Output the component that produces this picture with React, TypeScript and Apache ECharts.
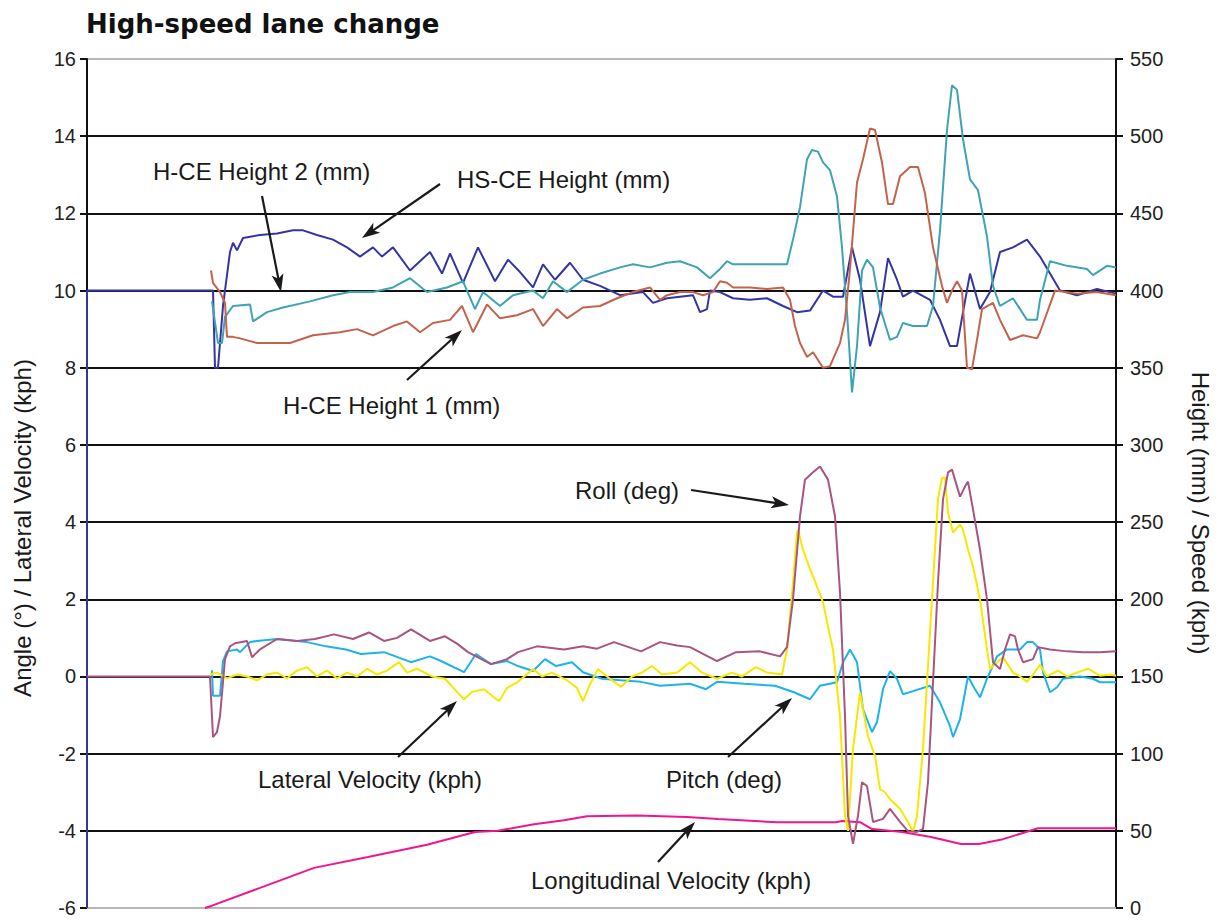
import React, { useEffect, useRef } from "react";
import * as echarts from "echarts";

// time in seconds (x axis)
const timeMax = 10.29;

// left axis: Angle (deg) / Lateral Velocity (kph)
const leftMin = -6;
const leftMax = 16;
const leftStep = 2;
// right axis: Height (mm) / Speed (kph)
const rightMin = 0;
const rightMax = 550;
const rightStep = 50;

const hsceHeight = [
  [0, 0], [0, 400], [1.26, 400], [1.28, 350], [1.31, 350], [1.36, 390], [1.43, 425], [1.46, 431], [1.5, 426],
  [1.56, 434], [1.73, 436], [1.9, 437], [2.06, 439], [2.16, 439], [2.3, 436], [2.46, 433], [2.6, 428],
  [2.73, 422], [2.86, 428], [2.95, 422], [3.06, 428], [3.23, 413], [3.43, 425], [3.55, 411], [3.63, 424],
  [3.76, 405], [3.91, 428], [4.08, 406], [4.21, 420], [4.33, 412], [4.46, 402], [4.56, 417], [4.68, 407],
  [4.83, 418], [4.96, 407], [5.13, 403], [5.33, 397], [5.56, 399], [5.66, 392], [5.8, 395], [6.06, 397],
  [6.13, 386], [6.2, 388], [6.23, 400], [6.33, 399], [6.46, 395], [6.63, 394], [6.8, 395], [6.96, 390],
  [7.1, 386], [7.23, 387], [7.36, 400], [7.46, 396], [7.56, 396], [7.65, 428], [7.73, 407], [7.83, 364],
  [7.93, 386], [8.01, 421], [8.1, 407], [8.16, 396], [8.26, 400], [8.43, 394], [8.53, 381], [8.63, 364],
  [8.7, 364], [8.76, 386], [8.83, 411], [8.93, 388], [9.03, 399], [9.13, 425], [9.26, 428], [9.4, 433],
  [9.53, 422], [9.73, 400], [9.9, 397], [10.1, 401], [10.29, 398],
];

const hceHeight2 = [
  [1.25, 393], [1.31, 366], [1.35, 366], [1.38, 383], [1.46, 390], [1.63, 391], [1.66, 380], [1.8, 386],
  [1.96, 389], [2.23, 393], [2.46, 397], [2.63, 399], [2.86, 399], [3.06, 402], [3.23, 408], [3.4, 399],
  [3.6, 402], [3.76, 406], [3.88, 388], [3.96, 399], [4.13, 390], [4.26, 397], [4.46, 400], [4.56, 395],
  [4.66, 406], [4.8, 399], [4.96, 407], [5.13, 411], [5.33, 415], [5.46, 417], [5.63, 415], [5.8, 418],
  [5.93, 419], [6.1, 415], [6.23, 408], [6.33, 414], [6.4, 419], [6.46, 417], [6.73, 417], [7.0, 417],
  [7.06, 433], [7.13, 454], [7.2, 485], [7.25, 491], [7.31, 490], [7.36, 483], [7.43, 478], [7.5, 461],
  [7.55, 428], [7.6, 386], [7.65, 334], [7.7, 364], [7.75, 413], [7.8, 420], [7.86, 415], [7.93, 389],
  [8.03, 368], [8.1, 370], [8.16, 379], [8.26, 377], [8.4, 377], [8.46, 390], [8.53, 439], [8.6, 504],
  [8.65, 533], [8.7, 530], [8.76, 498], [8.83, 472], [8.91, 465], [9.0, 435], [9.06, 403], [9.13, 390],
  [9.26, 395], [9.4, 381], [9.5, 381], [9.53, 394], [9.63, 419], [9.8, 416], [10.0, 414], [10.06, 410],
  [10.2, 416], [10.29, 415],
];

const hceHeight1 = [
  [1.24, 413], [1.26, 405], [1.33, 399], [1.38, 392], [1.4, 370], [1.46, 370], [1.53, 369], [1.7, 366],
  [2.03, 366], [2.26, 371], [2.53, 373], [2.7, 375], [2.86, 371], [3.06, 377], [3.2, 380], [3.33, 373],
  [3.46, 379], [3.63, 381], [3.75, 390], [3.86, 373], [4.0, 391], [4.13, 382], [4.3, 384], [4.46, 388],
  [4.56, 377], [4.7, 388], [4.8, 382], [4.96, 389], [5.13, 390], [5.3, 395], [5.46, 399], [5.63, 402],
  [5.73, 394], [5.8, 397], [5.93, 399], [6.06, 399], [6.16, 397], [6.26, 399], [6.33, 406], [6.4, 405],
  [6.46, 402], [6.63, 402], [6.8, 401], [6.96, 402], [7.03, 394], [7.08, 377], [7.13, 366], [7.2, 357],
  [7.26, 360], [7.36, 350], [7.43, 351], [7.53, 366], [7.58, 381], [7.63, 414], [7.7, 470], [7.76, 485],
  [7.83, 505], [7.88, 504], [7.95, 483], [8.01, 456], [8.06, 456], [8.13, 474], [8.23, 480], [8.31, 480],
  [8.38, 463], [8.46, 428], [8.55, 403], [8.6, 392], [8.65, 400], [8.7, 406], [8.75, 400], [8.8, 350],
  [8.85, 349], [8.9, 368], [8.95, 388], [9.06, 392], [9.13, 381], [9.23, 368], [9.36, 371], [9.5, 369],
  [9.53, 373], [9.68, 400], [9.9, 398], [10.1, 399], [10.29, 397],
];

const rollDeg = [
  [0, 0], [1.23, 0], [1.26, -1.57], [1.3, -1.44], [1.33, -1.03], [1.38, 0.45], [1.43, 0.78], [1.48, 0.86],
  [1.6, 0.92], [1.65, 0.5], [1.73, 0.7], [1.9, 0.97], [2.1, 0.92], [2.28, 0.97], [2.47, 1.09], [2.66, 0.97],
  [2.82, 1.14], [2.97, 0.92], [3.1, 1.0], [3.24, 1.22], [3.43, 0.92], [3.58, 1.04], [3.7, 0.85], [3.81, 0.63],
  [4.04, 0.32], [4.2, 0.45], [4.31, 0.63], [4.5, 0.78], [4.77, 0.7], [4.96, 0.78], [5.1, 0.72], [5.27, 0.89],
  [5.54, 0.65], [5.73, 0.89], [5.9, 0.8], [6.03, 0.76], [6.3, 0.4], [6.49, 0.63], [6.73, 0.65], [6.93, 0.52],
  [7.0, 0.76], [7.06, 2.0], [7.13, 4.15], [7.18, 5.1], [7.26, 5.29], [7.33, 5.44], [7.41, 5.1], [7.48, 4.15],
  [7.53, 2.18], [7.58, -1.03], [7.61, -3.61], [7.66, -4.34], [7.71, -3.61], [7.75, -2.74], [7.8, -2.84],
  [7.86, -3.77], [7.96, -3.69], [8.03, -3.43], [8.13, -3.77], [8.21, -4.01], [8.3, -4.03], [8.36, -3.95],
  [8.41, -2.74], [8.46, -0.15], [8.51, 2.44], [8.56, 4.59], [8.61, 5.29], [8.65, 5.36], [8.68, 5.1],
  [8.73, 4.66], [8.78, 4.92], [8.81, 5.05], [8.86, 4.33], [8.93, 3.29], [9.0, 2.0], [9.06, 0.37],
  [9.13, 0.19], [9.18, 0.7], [9.23, 1.09], [9.28, 1.04], [9.31, 0.7], [9.36, 0.37], [9.46, 0.45],
  [9.51, 0.76], [9.63, 0.7], [9.8, 0.65], [9.96, 0.63], [10.13, 0.63], [10.29, 0.65],
];

const pitchDeg = [
  [1.23, 0.05], [1.3, 0.1], [1.4, -0.05], [1.5, 0.05], [1.6, 0.0], [1.7, -0.1], [1.8, 0.05], [1.9, 0.1],
  [2.0, -0.05], [2.1, 0.15], [2.2, 0.24], [2.3, 0.0], [2.4, 0.15], [2.5, -0.05], [2.6, 0.1], [2.7, 0.0],
  [2.8, 0.2], [2.9, 0.05], [3.0, 0.15], [3.12, 0.37], [3.2, 0.1], [3.3, 0.2], [3.45, 0.0], [3.58, -0.06],
  [3.7, -0.4], [3.77, -0.59], [3.85, -0.4], [3.97, -0.33], [4.05, -0.5], [4.12, -0.64], [4.2, -0.3],
  [4.31, -0.14], [4.46, 0.19], [4.55, 0.0], [4.65, 0.1], [4.8, -0.1], [4.9, -0.3], [4.96, -0.64],
  [5.03, -0.2], [5.11, 0.19], [5.2, 0.0], [5.34, -0.27], [5.45, 0.0], [5.55, 0.1], [5.65, 0.27],
  [5.75, 0.05], [5.9, 0.1], [6.03, 0.37], [6.15, 0.1], [6.3, -0.06], [6.45, 0.1], [6.55, 0.0], [6.69, 0.24],
  [6.8, 0.1], [6.95, 0.05], [7.0, 0.7], [7.06, 2.44], [7.1, 3.73], [7.11, 3.8], [7.16, 3.29], [7.23, 2.78],
  [7.26, 2.6], [7.31, 2.26], [7.36, 1.92], [7.43, 1.04], [7.46, 0.7], [7.53, -1.03], [7.58, -3.61],
  [7.61, -4.0], [7.66, -1.88], [7.73, -0.41], [7.76, -0.85], [7.81, -1.55], [7.88, -2.06], [7.93, -2.92],
  [7.98, -3.0], [8.03, -3.18], [8.13, -3.43], [8.21, -3.77], [8.26, -4.03], [8.3, -3.61], [8.36, -1.88],
  [8.41, 0.27], [8.46, 2.44], [8.51, 4.59], [8.55, 5.15], [8.58, 5.15], [8.61, 4.25], [8.66, 3.73],
  [8.73, 3.94], [8.76, 3.8], [8.81, 3.29], [8.86, 2.85], [8.93, 2.0], [9.0, 0.7], [9.03, 0.19], [9.1, 0.37],
  [9.16, 0.5], [9.26, 0.1], [9.33, 0.0], [9.4, -0.14], [9.46, 0.05], [9.53, 0.3], [9.6, 0.0], [9.71, 0.15],
  [9.8, 0.0], [9.9, 0.1], [10.01, 0.2], [10.13, 0.02], [10.23, 0.05], [10.29, 0.02],
];

const lateralVel = [
  [1.25, 0.16], [1.26, -0.5], [1.33, -0.5], [1.36, 0.4], [1.4, 0.65], [1.5, 0.7], [1.53, 0.63], [1.63, 0.89],
  [1.7, 0.92], [1.9, 0.97], [2.2, 0.89], [2.39, 0.78], [2.59, 0.7], [2.74, 0.58], [2.97, 0.63], [3.24, 0.37],
  [3.43, 0.52], [3.54, 0.4], [3.77, 0.11], [3.89, 0.58], [4.04, 0.32], [4.2, 0.4], [4.31, 0.27], [4.46, 0.14],
  [4.58, 0.45], [4.69, 0.27], [4.85, 0.37], [4.96, 0.11], [5.15, -0.06], [5.34, -0.1], [5.54, -0.14],
  [5.73, -0.24], [6.03, -0.19], [6.19, -0.33], [6.3, -0.14], [6.57, -0.19], [6.88, -0.24], [7.07, -0.41],
  [7.23, -0.59], [7.33, -0.24], [7.5, -0.15], [7.56, 0.37], [7.63, 0.7], [7.7, 0.37], [7.76, -0.85],
  [7.85, -1.44], [7.9, -1.18], [7.96, -0.33], [8.03, 0.14], [8.1, -0.06], [8.16, -0.46], [8.26, -0.38],
  [8.43, -0.24], [8.53, -0.67], [8.63, -1.29], [8.66, -1.57], [8.73, -1.11], [8.81, 0.0], [8.88, -0.33],
  [8.93, -0.54], [9.0, -0.06], [9.1, 0.52], [9.2, 0.7], [9.33, 0.7], [9.4, 0.89], [9.46, 0.89], [9.53, 0.7],
  [9.56, 0.11], [9.63, -0.41], [9.7, -0.28], [9.76, -0.06], [9.93, 0.0], [10.06, -0.06], [10.13, -0.15],
  [10.29, -0.15],
];

const longVel = [
  [1.18, 0], [1.25, 1.5], [1.73, 13], [2.27, 26], [2.81, 33], [3.4, 41], [3.88, 49.2], [4.11, 50],
  [4.47, 54.3], [4.77, 56.9], [5.0, 59.5], [5.5, 60], [6.0, 59], [6.31, 57.6], [6.9, 55.6], [7.49, 55.6],
  [7.55, 56.3], [7.73, 55.6], [7.85, 51.1], [8.15, 49.2], [8.44, 46], [8.74, 41.4], [8.92, 41.4],
  [9.16, 44.6], [9.39, 49.2], [9.51, 51.7], [10.29, 51.7],
];

const annotations = [
  { text: "H-CE Height 2 (mm)", x: 153, y: 171, from: [262, 196], to: [281, 292] },
  { text: "HS-CE Height (mm)", x: 457, y: 179, from: [440, 184], to: [362, 238] },
  { text: "H-CE Height 1 (mm)", x: 283, y: 405, from: [407, 380], to: [462, 330] },
  { text: "Roll (deg)", x: 575, y: 490, from: [691, 490], to: [789, 505] },
  { text: "Lateral Velocity (kph)", x: 258, y: 779, from: [398, 757], to: [457, 701] },
  { text: "Pitch (deg)", x: 666, y: 779, from: [728, 757], to: [792, 698] },
  { text: "Longitudinal Velocity (kph)", x: 531, y: 880, from: [658, 862], to: [695, 822] },
];

const FONT = "'Liberation Sans', Arial, sans-serif";

function arrowEls(from: number[], to: number[]) {
  const [x1, y1] = from;
  const [x2, y2] = to;
  const a = Math.atan2(y2 - y1, x2 - x1);
  const L = 18;
  const W = 6;
  const bx = x2 - L * Math.cos(a);
  const by = y2 - L * Math.sin(a);
  const px = Math.sin(a) * W;
  const py = -Math.cos(a) * W;
  return [
    {
      type: "line",
      z: 100,
      shape: { x1, y1, x2: bx + (x2 - bx) * 0.3, y2: by + (y2 - by) * 0.3 },
      style: { stroke: "#1a1a1a", lineWidth: 2.2 },
    },
    {
      type: "polygon",
      z: 100,
      shape: { points: [[x2, y2], [bx + px, by + py], [bx + L * 0.25 * Math.cos(a), by + L * 0.25 * Math.sin(a)], [bx - px, by - py]] },
      style: { fill: "#1a1a1a" },
    },
  ];
}

export default function App() {
  const ref = useRef<HTMLDivElement>(null);
  useEffect(() => {
    if (!ref.current) return;
    const chart = echarts.init(ref.current, null, { renderer: "svg" });
    const splitColors: string[] = [];
    const nLines = Math.round((leftMax - leftMin) / leftStep) + 1;
    for (let i = 0; i < nLines; i++) {
      splitColors.push(i === 0 || i === nLines - 1 ? "#bdb5b5" : "#111111");
    }
    const lineSeries = (name: string, data: number[][], color: string, yAxisIndex: number, z: number) => ({
      name,
      type: "line",
      data,
      yAxisIndex,
      showSymbol: false,
      symbol: "none",
      z,
      lineStyle: { color, width: 2 },
      itemStyle: { color },
    });
    const graphics: any[] = [];
    annotations.forEach((a) => {
      graphics.push({
        type: "text",
        z: 100,
        x: a.x,
        y: a.y,
        style: { text: a.text, fontSize: 24, fontFamily: FONT, fill: "#1a1a1a", align: "left", verticalAlign: "middle" },
      });
      graphics.push(...arrowEls(a.from, a.to));
    });
    graphics.push({
      type: "text",
      z: 100,
      x: 22,
      y: 528,
      rotation: Math.PI / 2,
      style: { text: "Angle (°) / Lateral Velocity (kph)", fontSize: 24, fontFamily: FONT, fill: "#1a1a1a", align: "center", verticalAlign: "middle" },
    });
    graphics.push({
      type: "text",
      z: 100,
      x: 1200,
      y: 513,
      rotation: -Math.PI / 2,
      style: { text: "Height (mm) / Speed (kph)", fontSize: 24, fontFamily: FONT, fill: "#1a1a1a", align: "center", verticalAlign: "middle" },
    });
    chart.setOption({
      animation: false,
      backgroundColor: "#ffffff",
      title: {
        text: "High-speed lane change",
        left: 81,
        top: 6,
        textStyle: { fontSize: 26, fontWeight: 900, fontFamily: "'DejaVu Sans', sans-serif", color: "#111" },
      },
      grid: { left: 87, right: 106, top: 59, bottom: 13, containLabel: false },
      xAxis: {
        type: "value",
        min: 0,
        max: timeMax,
        axisLine: { show: true, onZero: false, lineStyle: { color: "#bdb5b5", width: 2 } },
        axisTick: { show: false },
        axisLabel: { show: false },
        splitLine: { show: false },
      },
      yAxis: [
        {
          type: "value",
          position: "left",
          min: leftMin,
          max: leftMax,
          interval: leftStep,
          axisLine: { show: true, lineStyle: { color: "#111", width: 2 } },
          axisTick: { show: true, length: 7, lineStyle: { color: "#111", width: 2 } },
          axisLabel: { fontSize: 20, fontFamily: FONT, color: "#222", margin: 11 },
          splitLine: { show: true, lineStyle: { color: splitColors, width: 2 } },
        },
        {
          type: "value",
          position: "right",
          min: rightMin,
          max: rightMax,
          interval: rightStep,
          axisLine: { show: true, lineStyle: { color: "#111", width: 2 } },
          axisTick: { show: true, length: 7, lineStyle: { color: "#111", width: 2 } },
          axisLabel: { fontSize: 20, fontFamily: FONT, color: "#222", margin: 14 },
          splitLine: { show: false },
        },
      ],
      series: [
        lineSeries("HS-CE Height (mm)", hsceHeight, "#3434a4", 1, 3),
        lineSeries("H-CE Height 2 (mm)", hceHeight2, "#3fa3b3", 1, 4),
        lineSeries("H-CE Height 1 (mm)", hceHeight1, "#c4634c", 1, 5),
        lineSeries("Longitudinal Velocity (kph)", longVel, "#f0168e", 1, 6),
        lineSeries("Lateral Velocity (kph)", lateralVel, "#1eb2ea", 0, 7),
        lineSeries("Pitch (deg)", pitchDeg, "#f7e800", 0, 8),
        lineSeries("Roll (deg)", rollDeg, "#a85582", 0, 9),
      ],
      graphic: graphics,
    });
    return () => chart.dispose();
  }, []);
  return (
    <div
      ref={ref}
      style={{ position: "fixed", left: 0, top: 0, width: 1222, height: 921, background: "#fff" }}
    />
  );
}
